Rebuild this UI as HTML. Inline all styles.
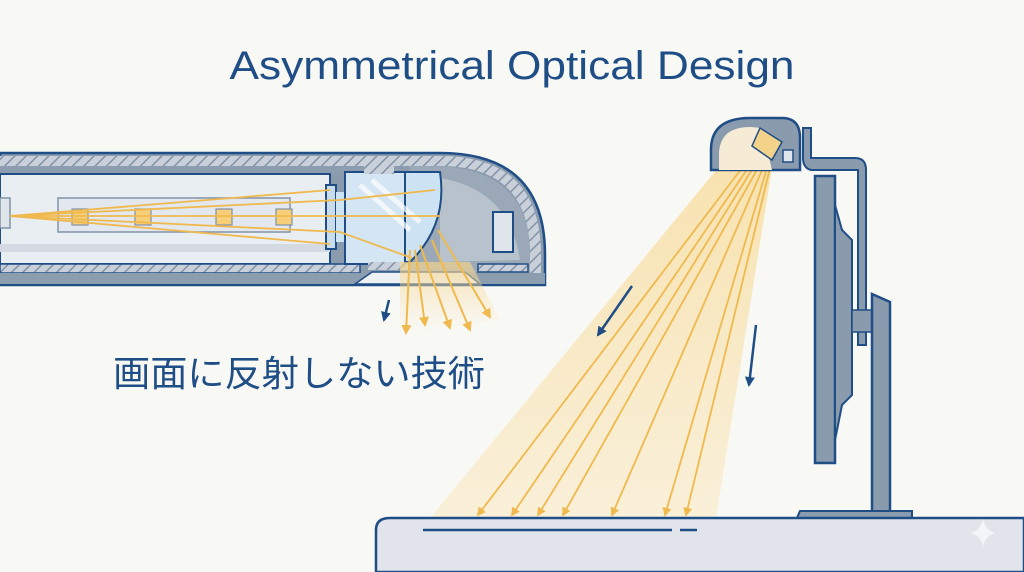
<!DOCTYPE html>
<html><head><meta charset="utf-8"><style>
html,body{margin:0;padding:0;background:#f8f8f5;}
svg{display:block;}
</style></head><body>
<svg width="1024" height="572" viewBox="0 0 1024 572" xmlns="http://www.w3.org/2000/svg">
<defs>
<pattern id="hatch" width="8" height="8" patternUnits="userSpaceOnUse" patternTransform="rotate(45)">
<rect width="8" height="8" fill="#c9d0d9"/><line x1="0" y1="0" x2="0" y2="8" stroke="#8193a8" stroke-width="3"/>
</pattern>
<linearGradient id="cone" x1="0" y1="0" x2="0" y2="1">
<stop offset="0" stop-color="#f7d68a" stop-opacity="0.65"/><stop offset="1" stop-color="#fbe8bd" stop-opacity="0.5"/>
</linearGradient>
<linearGradient id="fan" x1="0" y1="0" x2="0" y2="1">
<stop offset="0" stop-color="#f5d48a" stop-opacity="0.7"/><stop offset="1" stop-color="#fbe8c0" stop-opacity="0"/>
</linearGradient>
<marker id="ya" viewBox="0 0 10 10" refX="8" refY="5" markerWidth="5" markerHeight="5" orient="auto"><path d="M0,0 L10,5 L0,10 z" fill="#f0b94e"/></marker>
<marker id="ba" viewBox="0 0 10 10" refX="8" refY="5" markerWidth="4" markerHeight="4" orient="auto"><path d="M0,0 L10,5 L0,10 z" fill="#1f4e86"/></marker>
</defs>

<text x="512" y="79" text-anchor="middle" font-family="Liberation Sans, sans-serif" font-size="40" fill="#1f4e86" textLength="565" lengthAdjust="spacingAndGlyphs">Asymmetrical Optical Design</text>

<!-- left bar -->
<path d="M0,153 L440,153 Q545,153 545,255 L545,285 L0,285 Z" fill="#8a9bae" stroke="#1f4e86" stroke-width="2.5"/>
<path d="M0,156 L440,156 Q541,156 541,255 L541,282 L530,282 L530,255 Q530,166 440,166 L0,166 Z" fill="url(#hatch)"/>
<rect x="0" y="166" width="430" height="8" fill="#8d9db0"/>
<path d="M430,166 Q530,166 530,255 L530,272 L410,272 L410,166 Z" fill="#9aa8b8"/>
<path d="M440,178 Q510,190 520,260 L440,262 Z" fill="#b8c2cd"/>
<rect x="0" y="174" width="330" height="90" fill="#e9eef3" stroke="#1f4e86" stroke-width="2"/>
<rect x="0" y="244" width="330" height="8" fill="#d3dae2"/>
<rect x="0" y="264" width="360" height="9" fill="url(#hatch)" stroke="#1f4e86" stroke-width="1.5"/>
<rect x="0" y="273" width="545" height="11" fill="#8d9db0"/>
<path d="M355,284 L372,272 L465,272 L480,284 Z" fill="#eef1f4" stroke="#1f4e86" stroke-width="1.5"/>
<rect x="478" y="264" width="50" height="8" fill="url(#hatch)" stroke="#1f4e86" stroke-width="1.5"/>
<rect x="493" y="212" width="20" height="40" fill="#dfe5ea" stroke="#1f4e86" stroke-width="2"/>
<rect x="0" y="198" width="10" height="30" fill="#dfe5ea" stroke="#8193a8" stroke-width="1.5"/>
<rect x="58" y="198" width="232" height="34" fill="#e2e8ee" stroke="#8193a8" stroke-width="1.5"/>
<g fill="#f6cf78" stroke="#8193a8" stroke-width="1.2">
<rect x="72" y="209" width="16" height="16"/><rect x="135" y="209" width="16" height="16"/><rect x="216" y="209" width="16" height="16"/><rect x="276" y="209" width="16" height="16"/>
</g>
<!-- lens assembly -->
<rect x="326" y="185" width="10" height="64" fill="#c9dcec" stroke="#1f4e86" stroke-width="2"/>
<rect x="336" y="192" width="14" height="50" fill="#cfe4f3"/>
<rect x="345" y="172" width="60" height="92" fill="#d4e6f4" stroke="#1f4e86" stroke-width="2"/>
<rect x="364" y="166" width="30" height="8" fill="url(#hatch)"/>
<rect x="368" y="262" width="40" height="8" fill="url(#hatch)"/>
<path d="M405,172 L440,172 Q448,225 410,262 L405,262 Z" fill="#cde3f3" stroke="#1f4e86" stroke-width="2"/>
<path d="M360,185 L410,230 M372,180 L420,222" stroke="#ffffff" stroke-width="5" opacity="0.7"/>
<g stroke="#f0b94e" stroke-width="1.8" fill="none">
<path d="M10,216 L340,200 L435,190"/><path d="M10,216 L440,216"/><path d="M10,216 L340,232 L412,258"/>
<path d="M10,216 L330,190"/><path d="M10,216 L330,244"/>
</g>
<path d="M400,262 L470,262 L500,320 L400,335 Z" fill="url(#fan)"/>
<g stroke="#f0b94e" stroke-width="2" fill="none" marker-end="url(#ya)">
<path d="M410,250 L406,333"/><path d="M415,250 L425,325"/><path d="M420,245 L450,328"/><path d="M432,240 L470,330"/><path d="M438,230 L490,317"/>
</g>
<line x1="389" y1="300" x2="384" y2="320" stroke="#1f4e86" stroke-width="2.5" marker-end="url(#ba)"/>

<text x="113" y="386" font-family="Liberation Sans, 'Noto Sans CJK JP', sans-serif" font-size="36" font-weight="normal" fill="#1f4e86" textLength="372" lengthAdjust="spacingAndGlyphs">画面に反射しない技術</text>

<!-- light cone -->
<path d="M718,168 L772,168 L716,518 L430,518 Z" fill="url(#cone)"/>
<g stroke="#f0b94e" stroke-width="1.8" fill="none" marker-end="url(#ya)">
<path d="M742,168 L478,515"/><path d="M748,168 L512,515"/><path d="M753,168 L538,515"/><path d="M758,168 L563,515"/><path d="M763,168 L612,515"/><path d="M767,168 L665,515"/><path d="M770,168 L686,515"/>
</g>
<line x1="632" y1="286" x2="598" y2="335" stroke="#1f4e86" stroke-width="2.5" marker-end="url(#ba)"/>
<line x1="756" y1="325" x2="749" y2="385" stroke="#1f4e86" stroke-width="2.5" marker-end="url(#ba)"/>

<!-- lamp head -->
<path d="M711,170 L711,150 Q711,118 750,118 L782,118 Q800,118 800,138 L800,170 Z" fill="#8a9bae" stroke="#1f4e86" stroke-width="2.5"/>
<path d="M719,170 L719,152 Q721,127 750,127 L762,128 L772,170 Z" fill="#f6ecd6"/>
<path d="M760,128 L782,142 L772,160 L752,146 Z" fill="#f3d38a" stroke="#1f4e86" stroke-width="1.5"/>
<rect x="783" y="150" width="10" height="12" fill="#dfe5ea" stroke="#1f4e86" stroke-width="1.5"/>
<!-- arm -->
<path d="M803,128 L811,128 L811,158 L855,158 Q866,158 866,170 L866,345 L858,345 L858,170 L811,170 Q803,168 803,158 Z" fill="#8a9bae" stroke="#1f4e86" stroke-width="2"/>
<!-- monitor -->
<rect x="815" y="176" width="20" height="287" fill="#8a9bae" stroke="#1f4e86" stroke-width="2.5"/>
<path d="M835,205 L842,230 L852,240 L852,395 L842,405 L835,440 Z" fill="#8a9bae" stroke="#1f4e86" stroke-width="2"/>
<rect x="852" y="310" width="22" height="22" fill="#8a9bae" stroke="#1f4e86" stroke-width="1.5"/>
<path d="M872,294 L890,302 L890,512 L872,512 Z" fill="#8a9bae" stroke="#1f4e86" stroke-width="2.5"/>
<path d="M797,518 L800,511 L912,511 L912,518 Z" fill="#8a9bae" stroke="#1f4e86" stroke-width="2"/>
<!-- desk -->
<path d="M376,572 L376,530 Q376,518 390,518 L1024,518 L1024,572 Z" fill="#e1e4ea" stroke="#1f4e86" stroke-width="2.5"/>
<line x1="423" y1="530" x2="672" y2="530" stroke="#1f4e86" stroke-width="2.5"/>
<line x1="680" y1="530" x2="697" y2="530" stroke="#1f4e86" stroke-width="2.5"/>
<path d="M983,519 Q985,530 995,533 Q985,536 983,547 Q981,536 971,533 Q981,530 983,519 Z" fill="#f4f5f8"/>
</svg>
</body></html>
